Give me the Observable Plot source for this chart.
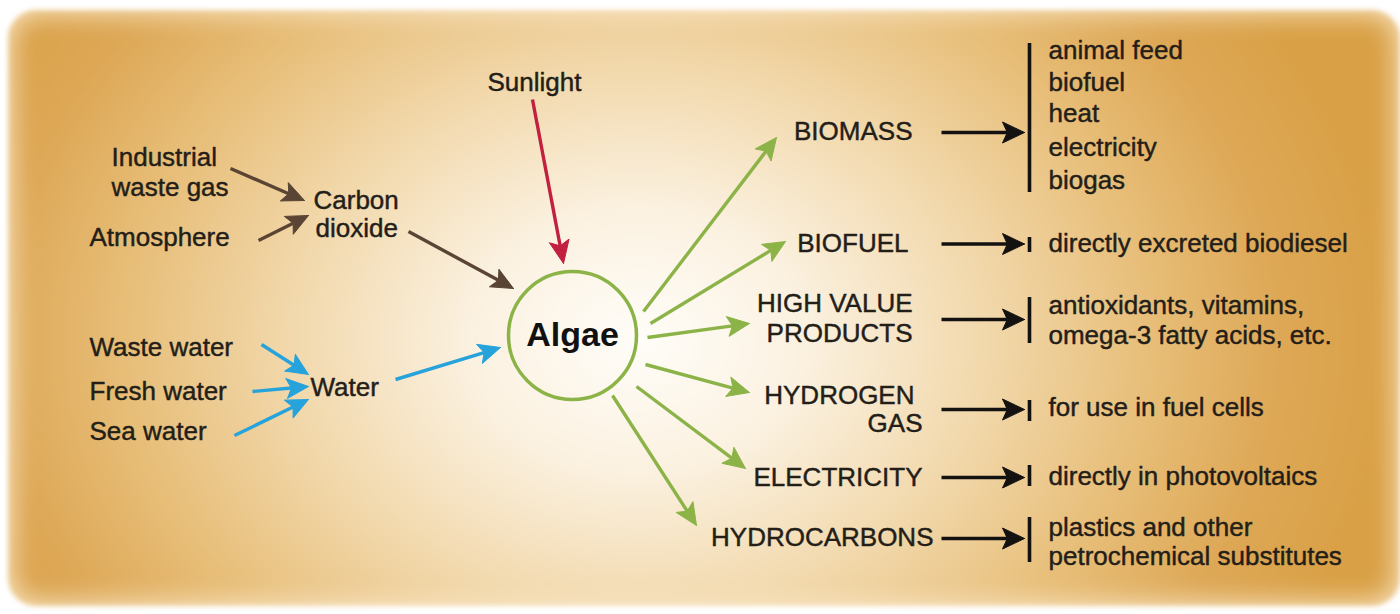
<!DOCTYPE html>
<html><head><meta charset="utf-8">
<script src="https://cdn.jsdelivr.net/npm/d3@7"></script>
<script src="https://cdn.jsdelivr.net/npm/@observablehq/plot@0.6"></script>
<style>
html,body{margin:0;padding:0;background:#fff;}
#wrap{position:relative;width:1400px;height:614px;overflow:hidden;background:#fff;}
#bg{position:absolute;left:8px;top:10px;width:1392px;height:596px;border-radius:28px;filter:blur(2.5px);
 background:radial-gradient(ellipse 760px 600px at 630px 330px,#fffdf9 0%,#fbf1e0 22%,#f2d9ad 45%,#e7bd77 68%,#dda755 85%,#d9a045 100%);
 box-shadow: inset 0 0 26px 4px rgba(250,232,200,0.95);}
#chart{position:absolute;left:0;top:0;}
</style></head><body>
<div id="wrap"><div id="bg"></div><div id="chart"></div></div>
<script>
// ---- Inputs (left side) ----
const topLabel = "Sunlight";
const topX = 534, topY = 82;
const inputLabels = ["Industrial","waste gas","Carbon","dioxide","Atmosphere","Waste water","Fresh water","Sea water","Water"];
const inputX = [111,111,313,315,89,89,89,89,310];
const inputY = [157,187,200,228,237,347,391,431,387];

// ---- Centre ----
const centreLabel = "Algae";
const centreX = 572, centreY = 335;

// ---- Products ----
const productLabels = ["BIOMASS","BIOFUEL","HIGH VALUE","PRODUCTS","HYDROGEN","GAS","ELECTRICITY","HYDROCARBONS"];
const productX = [912,908,912,912,914,922,922,933];
const productY = [131,243.5,303.5,333,395.5,423,477,537];

// ---- Uses (right side) ----
const useLabels = ["animal feed","biofuel","heat","electricity","biogas","directly excreted biodiesel","antioxidants, vitamins,","omega-3 fatty acids, etc.","for use in fuel cells","directly in photovoltaics","plastics and other","petrochemical substitutes"];
const useX = 1048;
const useY = [50,82,113.5,147,180,243,305,335,407,476,527,556];

// ---- Arrows: [x1, y1, x2(tip), y2(tip)] ----
const brownArrows = [[230,168,304,200],[258,240,308,215],[408,231,513,288]];
const redArrows = [[532,99,563,263]];
const blueArrows = [[261,344,308,374],[252,391,308,386],[234,435,308,399],[395,379,500,347]];
const greenArrows = [[643,311,776,137],[650,323,785,241],[647,337,749,323],[645,364,749,392],[636,386,745,468],[612,395,696,525]];
const blackArrowY = [132,243.5,319,409,477,538];
const blackArrowX1 = 941, blackArrowX2 = 1024;
const barX = 1029;
const barY1 = [43,237,297,400,465,517];
const barY2 = [192,252,343,421,486,562];

const colors = {brown:"#5a4535", red:"#c1203f", blue:"#27a3dc", green:"#8cb347", black:"#141210"};

const arrows = [
  ...brownArrows.map(a => ({a, c: colors.brown, L: 22, W: 10})),
  ...redArrows.map(a => ({a, c: colors.red, L: 23, W: 10})),
  ...blueArrows.map(a => ({a, c: colors.blue, L: 22, W: 10})),
  ...greenArrows.map(a => ({a, c: colors.green, L: 22, W: 10})),
  ...blackArrowY.map(y => ({a: [blackArrowX1, y, blackArrowX2, y], c: colors.black, L: 22, W: 10.5}))
];
const shafts = [], heads = [];
arrows.forEach((d, i) => {
  const [x1, y1, x2, y2] = d.a;
  const dx = x2 - x1, dy = y2 - y1, len = Math.hypot(dx, dy);
  const ux = dx / len, uy = dy / len, nx = -uy, ny = ux;
  const bx = x2 - ux * d.L * 0.78, by = y2 - uy * d.L * 0.78;
  shafts.push({x1, y1, x2: bx, y2: by, c: d.c});
  const pts = [[x2, y2], [x2 - ux * d.L + nx * d.W, y2 - uy * d.L + ny * d.W], [bx, by], [x2 - ux * d.L - nx * d.W, y2 - uy * d.L - ny * d.W], [x2, y2]];
  pts.forEach(p => heads.push({x: p[0], y: p[1], z: i, c: d.c}));
});

const font = "Liberation Sans, Arial, Helvetica, sans-serif";
const ink = "#241e19";
const idx = arr => arr.map((_, i) => i);
const txt = {fontSize: 26, fill: ink, stroke: ink, strokeWidth: 0.45, fontFamily: font, lineAnchor: "middle"};

const chart = Plot.plot({
  width: 1400, height: 614,
  margin: 0, inset: 0,
  x: {domain: [0, 1400], axis: null},
  y: {domain: [0, 614], reverse: true, axis: null},
  color: {type: "identity"},
  style: {background: "transparent", fontFamily: font},
  marks: [
    Plot.dot([0], {x: () => centreX, y: () => centreY, r: 64, stroke: colors.green, strokeWidth: 3.5, fill: "none"}),
    Plot.link(shafts, {x1: "x1", y1: "y1", x2: "x2", y2: "y2", stroke: "c", strokeWidth: 3.4}),
    Plot.line(heads, {x: "x", y: "y", z: "z", fill: "c", stroke: "c", strokeWidth: 1, strokeLinejoin: "miter"}),
    Plot.ruleX(idx(barY1), {x: () => barX, y1: i => barY1[i], y2: i => barY2[i], stroke: colors.black, strokeWidth: 3.6}),
    Plot.text([topLabel], {x: () => topX, y: () => topY, text: d => d, textAnchor: "middle", ...txt}),
    Plot.text(idx(inputLabels), {x: i => inputX[i], y: i => inputY[i], text: i => inputLabels[i], textAnchor: "start", ...txt}),
    Plot.text(idx(productLabels), {x: i => productX[i], y: i => productY[i], text: i => productLabels[i], textAnchor: "end", ...txt}),
    Plot.text(idx(useLabels), {x: () => useX, y: i => useY[i], text: i => useLabels[i], textAnchor: "start", ...txt}),
    Plot.text([centreLabel], {x: () => centreX, y: () => centreY, text: d => d, fontSize: 34, fontWeight: "bold", fill: "#111", fontFamily: font, lineAnchor: "middle"})
  ]
});
document.getElementById("chart").appendChild(chart);
</script>
</body></html>
